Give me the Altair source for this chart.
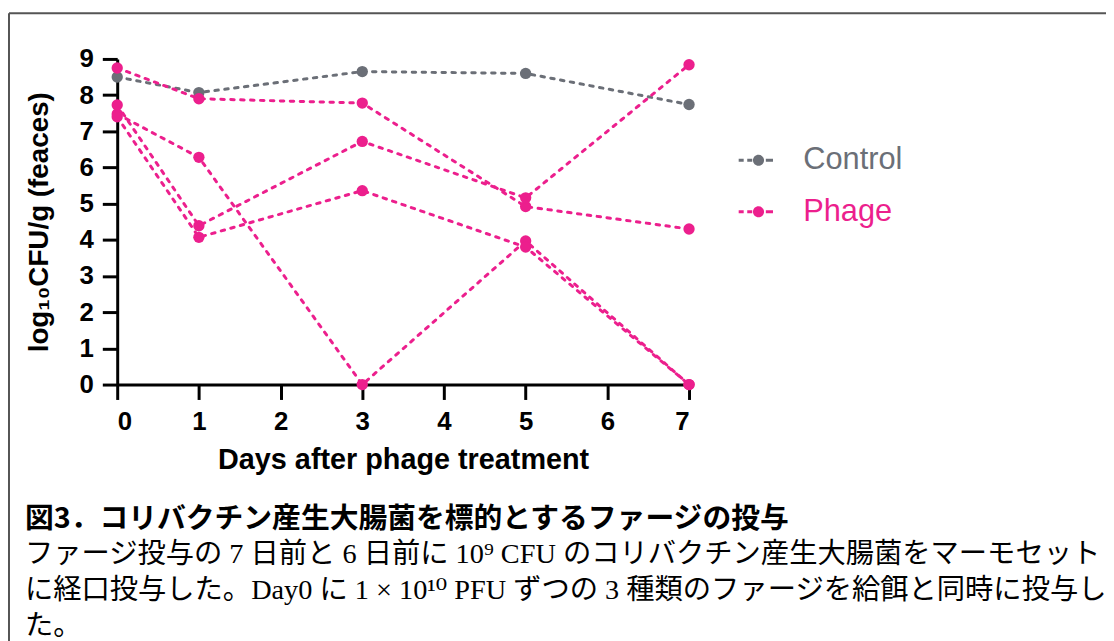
import altair as alt
import pandas as pd

days = [0, 1, 3, 5, 7]
control = [8.5, 8.07, 8.65, 8.6, 7.74]
phage_1 = [8.75, 7.9, 7.78, 4.92, 4.3]
phage_2 = [7.48, 6.28, 0.0, 3.97, 0.0]
phage_3 = [7.73, 4.39, 6.72, 5.16, 8.84]
phage_4 = [7.4, 4.07, 5.36, 3.8, 0.0]

groups = ["Control", "Phage"]
colors = ["#6b6f77", "#ec1f8d"]

x_ticks = [0, 1, 2, 3, 4, 5, 6, 7]
y_ticks = [0, 1, 2, 3, 4, 5, 6, 7, 8, 9]

heading = "図3．コリバクチン産生大腸菌を標的とするファージの投与"
body = [
    "ファージ投与の 7 日前と 6 日前に 10⁹ CFU のコリバクチン産生大腸菌をマーモセット",
    "に経口投与した。Day0 に 1 × 10¹⁰ PFU ずつの 3 種類のファージを給餌と同時に投与し",
    "た。",
]

series = [
    ("Control", "c1", control),
    ("Phage", "p1", phage_1),
    ("Phage", "p2", phage_2),
    ("Phage", "p3", phage_3),
    ("Phage", "p4", phage_4),
]
rows = []
for g, s, vals in series:
    for d, v in zip(days, vals):
        rows.append({"day": d, "value": v, "group": g, "subject": s})
df = pd.DataFrame(rows)

# legend glyph: two short dashes, a dot, one dash (all filled shapes)
sym = ("M-1,-0.085H-0.72V0.085H-1Z"
       "M-0.52,-0.085H-0.24V0.085H-0.52Z"
       "M-0.2,0A0.31,0.31 0 1,0 0.42,0A0.31,0.31 0 1,0 -0.2,0Z"
       "M0.52,-0.085H0.92V0.085H0.52Z")

xenc = alt.X("day:Q", scale=alt.Scale(domain=[0, 7], nice=False, zero=False),
             axis=alt.Axis(values=x_ticks, title="Days after phage treatment", format="d"))
yenc = alt.Y("value:Q", scale=alt.Scale(domain=[0, 9], nice=False),
             axis=alt.Axis(values=y_ticks, title="log₁₀CFU/g (feaces)", format="d"))

base = alt.Chart(df)

line_layers = []
for g, c in zip(groups, colors):
    line_layers.append(
        base.transform_filter(alt.datum.group == g)
        .mark_line(strokeDash=[3.5, 6.5], strokeCap="round", strokeWidth=3, color=c)
        .encode(x=xenc, y=yenc, detail="subject:N")
    )

leg = alt.Legend(
    title=None, orient="none", legendX=626, legendY=84,
    symbolType=sym, symbolSize=1296, symbolStrokeWidth=0,
    labelFont="Liberation Sans", labelFontSize=31, labelOffset=29,
    labelColor={"expr": "datum.label === 'Control' ? '#6b6f77' : '#ec1f8d'"},
    rowPadding=19, padding=0,
)

points = base.mark_point(filled=True, size=130, opacity=1).encode(
    x=xenc, y=yenc,
    color=alt.Color("group:N", scale=alt.Scale(domain=groups, range=colors), legend=leg),
)

one = alt.Data(values=[{"a": 1}])
frame_top = alt.Chart(one).mark_rule(stroke="#555555", strokeWidth=2).encode(
    x=alt.value(-109), x2=alt.value(1020), y=alt.value(-46)
)
frame_left = alt.Chart(one).mark_rule(stroke="#555555", strokeWidth=2).encode(
    x=alt.value(-109), y=alt.value(-46), y2=alt.value(700)
)

cap_head = alt.Chart(alt.Data(values=[{"t": heading}])).mark_text(
    align="left", baseline="middle", font="Noto Sans CJK JP", fontWeight="bold",
    fontSize=29, color="black"
).encode(text="t:N", x=alt.value(-93), y=alt.value(463))

cap_layers = []
for i, line in enumerate(body):
    cap_layers.append(
        alt.Chart(alt.Data(values=[{"t": line}])).mark_text(
            align="left", baseline="middle",
            font="Liberation Serif, DejaVu Serif, Noto Sans CJK JP",
            fontSize=28.5, color="black"
        ).encode(text="t:N", x=alt.value(-93), y=alt.value(499 + 36 * i))
    )

chart = alt.layer(frame_top, frame_left, *line_layers, points, cap_head, *cap_layers).properties(
    width=576, height=328,
    autosize=alt.AutoSizeParams(type="none"),
    padding={"left": 110, "top": 49, "right": 420, "bottom": 256},
).configure_view(stroke=None).configure_axis(
    grid=False, domainColor="black", domainWidth=3, tickColor="black", tickWidth=3,
    tickSize=15, labelFont="Liberation Sans", labelFontWeight="bold", labelFontSize=26,
    labelColor="black", titleFont="Liberation Sans", titleFontWeight="bold",
    titleFontSize=28, titleColor="black", labelPadding=9,
).configure_axisX(titlePadding=12, titleFontSize=29).configure_axisY(titlePadding=26)

chart.save("out.html", embed_options={"renderer": "svg", "actions": False})
